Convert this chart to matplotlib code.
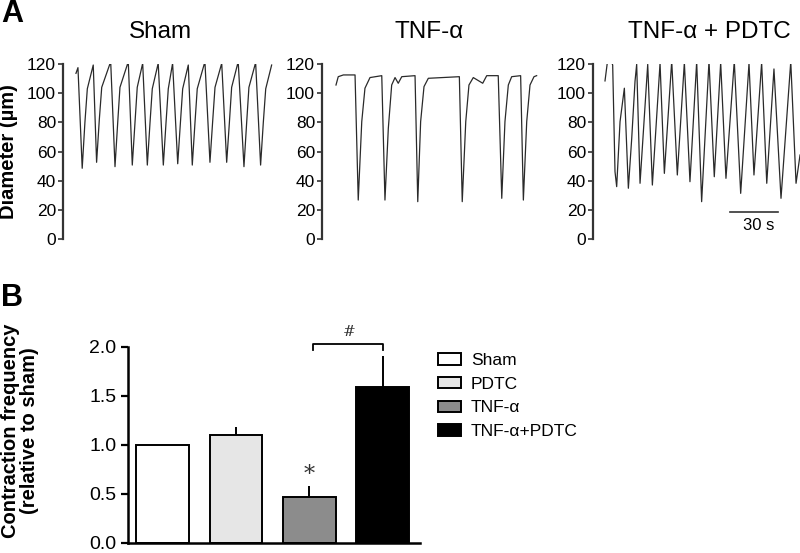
import numpy as np
import matplotlib
matplotlib.use("Agg")
import matplotlib.pyplot as plt

plt.rcParams['font.family'] = ['Liberation Sans', 'DejaVu Sans']

# ---- panel A: diameter traces (time in s, diameter in um)
sham_t = [0, 1.25, 3.9, 5.6, 7.1, 10.8, 12.9, 14.6, 16.1, 21.7, 24.4, 26.1, 27.5,
          32.7, 35.2, 36.9, 38.3, 41.7, 44.6, 46.3, 47.7, 51.4, 54.6, 56.3, 57.7,
          60.4, 63.6, 65.3, 66.7, 70.2, 72.7, 74.4, 75.8, 80.6, 83.75, 85.4, 86.9,
          91.1, 94.2, 95.9, 97.3, 101.4, 105.0, 106.7, 108.1, 112.3, 115.4, 117.1,
          118.6, 122.3]
sham_d = [113.6, 117.5, 48.5, 80, 103, 119.3, 52.6, 82, 104, 121.6, 49.6, 80, 104,
          121.6, 50.7, 80, 104, 120.5, 50.7, 80, 103, 120.5, 50.7, 80, 103,
          120.5, 51.6, 80, 103, 119.3, 50.7, 80, 103, 121.6, 52.6, 80, 104,
          120.5, 52.6, 80, 104, 121.6, 49.6, 80, 104, 121, 50.7, 80,
          103, 119.3]

tnf_t = [0, 1.4, 4.6, 11.9, 13.9, 16.1, 18.1, 21.25, 28.6, 30.6, 32.7, 34.8, 36.9,
         38.9, 41.1, 49.4, 51.1, 52.9, 55.0, 57.7, 77.1, 78.9, 81.1, 83.1, 85.8,
         91.7, 94.2, 101.4, 103.6, 105.6, 107.7, 109.8, 115.4, 117.1, 119.2,
         121.25, 123.75, 125.4]
tnf_d = [105.6, 111.3, 112.5, 112.5, 26.7, 80.5, 103.4, 110.7, 112, 26.7, 75.9, 105.6,
         110.7, 106.8, 111.3, 112, 25.6, 80.5, 104.5, 110.2, 111.3, 25.6, 80.5, 105.6,
         110.7, 106.8, 112, 112, 27.9, 80.5, 105.6, 111.3, 112, 26.7, 80.5,
         105.6, 111.3, 112]

pdtc_t = [0, 1.4, 4.2, 4.8, 6.25, 7.3, 9.4, 12.1, 14.6, 16.7, 18.75, 19.8, 21.9,
          26.7, 29.6, 34.4, 37.1, 41.7, 45.2, 49.6, 53.1, 57.3, 60.4, 65.0, 68.3,
          72.3, 75.6, 80.8, 84.8, 90.0, 93.1, 97.9, 101.1, 105.6, 110.0, 116.1,
          119.4, 121.9]
pdtc_d = [108.4, 120.5, 121, 119.3, 46.2, 35.9, 80.5, 103.4, 34.8, 69, 108, 119.8, 38.2,
          119.8, 37, 120.5, 45, 122, 43.9, 121, 39.3, 121.6, 25.6, 122, 42.7,
          121, 41.6, 122, 31.3, 120.5, 43.9, 121, 38.2, 116.6, 27.9, 121.6,
          38.2, 57.6]

trace_titles = ['Sham', 'TNF-\u03b1', 'TNF-\u03b1 + PDTC']
yticks_a = [0, 20, 40, 60, 80, 100, 120]

# ---- panel B: contraction frequency
groups = ['Sham', 'PDTC', 'TNF-\u03b1', 'TNF-\u03b1+PDTC']
freq = [1.0, 1.10, 0.46, 1.59]
freq_err = [0.0, 0.08, 0.12, 0.32]
bar_colors = ['white', '#e6e6e6', '#8c8c8c', 'black']

W, H = 800, 553
fig = plt.figure(figsize=(W / 100, H / 100), dpi=100)

def fx(px):
    return px / W

def fy(py):
    return 1 - py / H

# axes boxes in pixels: left, right, and x-limits start (s)
panels = [
    (63, 280, -8.1, sham_t, sham_d),
    (322, 545, -8.75, tnf_t, tnf_d),
    (593, 800, -7.5, pdtc_t, pdtc_d),
]
top, bottom = 64, 239
axes_a = []
for left, right, x0, t, d in panels:
    ax = fig.add_axes([fx(left), fy(bottom), fx(right - left), (bottom - top) / H])
    ax.plot(t, d, color='#2a2a2a', lw=0.9)
    ax.set_xlim(x0, x0 + (right - left) / 1.6)
    ax.set_ylim(0, 120)
    ax.set_yticks(yticks_a)
    ax.tick_params(axis='y', length=3.5, width=1.2, labelsize=12.5, pad=1.5, color='#333333')
    ax.set_xticks([])
    for s in ['top', 'right', 'bottom']:
        ax.spines[s].set_visible(False)
    ax.spines['left'].set_linewidth(1.6)
    ax.spines['left'].set_color('#333333')
    ax.patch.set_visible(False)
    axes_a.append(ax)

# scale bar 30 s
axp = axes_a[2]
axp.plot([78.1, 108.1], [18.7, 18.7], color='#333333', lw=1.2)
axp.text(96, 9.6, '30 s', ha='center', va='center', fontsize=12)

for x, title in zip([160, 429, 709], trace_titles):
    fig.text(fx(x), fy(32), title, ha='center', va='center', fontsize=17.5)

fig.text(fx(9), fy(151.5), 'Diameter (\u00b5m)', rotation=90, ha='center', va='center',
         fontsize=14.5, fontweight='bold')
fig.text(fx(12), fy(14), 'A', ha='center', va='center', fontsize=22, fontweight='bold')
fig.text(fx(12), fy(298), 'B', ha='center', va='center', fontsize=22, fontweight='bold')

# ---- panel B
b_left, b_right, b_top, b_bottom = 127.7, 420, 346.7, 542.5
axb = fig.add_axes([fx(b_left), fy(b_bottom), fx(b_right - b_left), (b_bottom - b_top) / H])
xpos = np.arange(len(groups))
bars = axb.bar(xpos, freq, width=0.72, color=bar_colors, edgecolor='black',
               linewidth=1.4, label=groups, zorder=2)
axb.errorbar(xpos[1:], freq[1:], yerr=[[0] * 3, freq_err[1:]], fmt='none',
             ecolor='black', elinewidth=1.4, capsize=0, zorder=1)
axb.set_xlim(-0.48, 3.51)
axb.set_ylim(0, 2.0)
axb.set_yticks([0, 0.5, 1.0, 1.5, 2.0])
axb.set_yticklabels(['0.0', '0.5', '1.0', '1.5', '2.0'])
axb.set_xticks([])
axb.tick_params(axis='y', length=5, width=1.6, labelsize=14, pad=3)
for s in ['top', 'right']:
    axb.spines[s].set_visible(False)
axb.spines['left'].set_linewidth(1.8)
axb.spines['bottom'].set_linewidth(1.8)

# significance marks
axb.text(2, 0.69, '*', ha='center', va='center', fontsize=16, family='DejaVu Serif',
         color='#333333')
axb.plot([2.05, 2.05, 3.0, 3.0], [1.97, 2.03, 2.03, 1.97], color='black', lw=1.3,
         clip_on=False)
axb.text(2.55, 2.15, '#', ha='center', va='center', fontsize=11, family='DejaVu Serif',
         style='italic', color='#333333')

fig.text(fx(20), fy(431), 'Contraction frequency\n(relative to sham)', rotation=90,
         ha='center', va='center', fontsize=14.5, fontweight='bold', linespacing=1.05)

fig.legend(handles=bars.patches, labels=groups, loc='upper left',
           bbox_to_anchor=(fx(438.3), fy(353)), frameon=False, fontsize=12.5,
           handlelength=1.32, handleheight=0.63, handletextpad=0.57,
           labelspacing=0.5, borderpad=0, borderaxespad=0)

fig.savefig('out.png', dpi=100)
